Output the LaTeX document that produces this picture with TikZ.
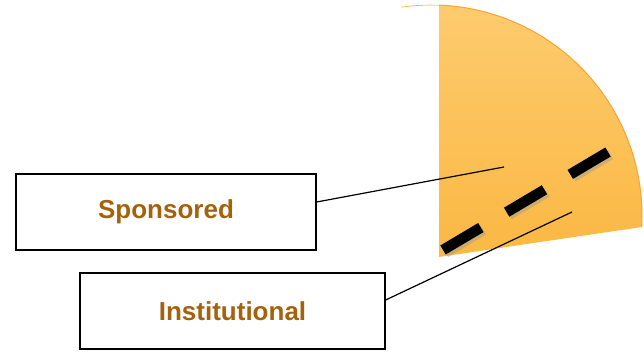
\documentclass[tikz,border=0pt]{standalone}
\usepackage{fontspec}
\setmainfont{Liberation Sans}
\usepackage{xcolor}
\definecolor{labelbrown}{HTML}{A5620C}
\definecolor{wedgetop}{HTML}{FDCB6E}
\definecolor{wedgebottom}{HTML}{FBB843}
\definecolor{wedgeedge}{HTML}{F7A52C}

\begin{document}
\begin{tikzpicture}[x=1pt,y=1pt,
  point/.style={coordinate},
  label box/.style={draw=black, line width=1.3pt, rectangle, minimum height=76pt, text=labelbrown, font=\fontsize{26}{30}\selectfont\bfseries},
  leader/.style={draw=black, line width=1.2pt},
  cut/.style={draw=black, line width=10.5pt, dash pattern=on 44pt off 30pt}]
\useasboundingbox (0,0) rectangle (644,353);
\node[point] (0) at (439,96)  {};
\node[point] (1) at (641.7,126)  {};
\node[point] (2) at (439.1,347.8)  {};
\node[point] (4) at (443,103)  {};
\node[point] (5) at (608,201)  {};
\node[point] (6) at (504,186)  {};
\node[point] (7) at (572,141)  {};
\node[label box, minimum width=300pt] (8) at (166,141)  {Sponsored};
\node[label box, minimum width=305pt] (9) at (232.5,42)  {Institutional};
% wedge
\shade[top color=wedgetop, bottom color=wedgebottom]
  (0) -- (1) arc[start angle=-3, end angle=87.8, radius=211] -- cycle;
\draw[wedgeedge, line width=1pt] (1) arc[start angle=-3, end angle=87.8, radius=211];
\draw[wedgeedge, line width=0.6pt] (2) arc[start angle=87.8, end angle=98, radius=211];
% split
\draw[cut, draw=black!40, opacity=0.45] ([shift={(2.5,-2.5)}]4) -- ([shift={(2.5,-2.5)}]5);
\draw[cut] (4) -- (5);
\draw[leader] ([yshift=10pt]8.east) -- (6);
\draw[leader] ([yshift=11pt]9.east) -- (7);
\end{tikzpicture}
\end{document}
